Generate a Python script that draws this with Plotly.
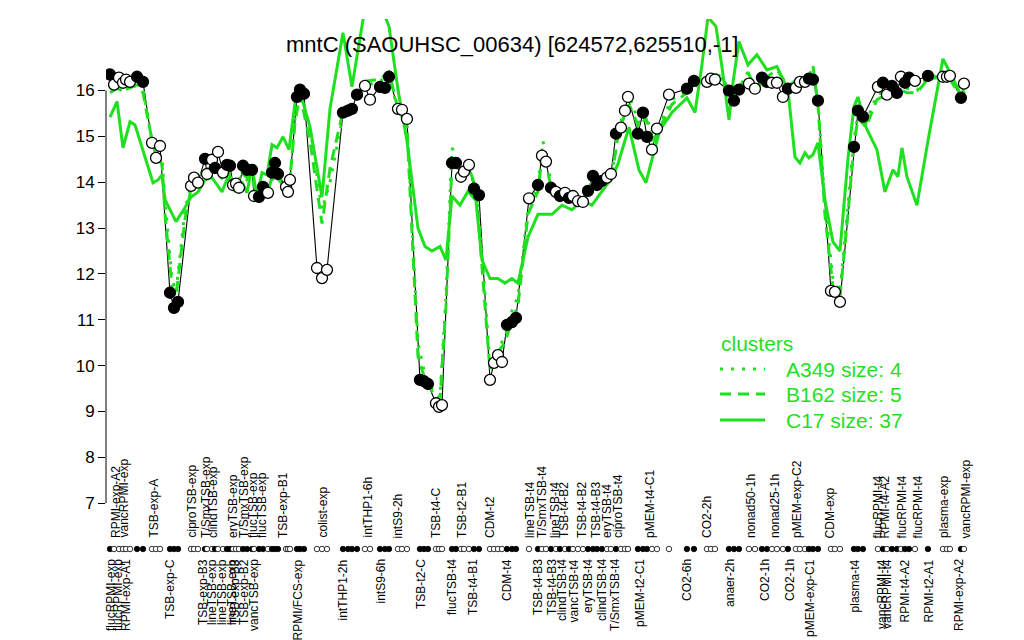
import plotly.graph_objects as go

# ---------------- data ----------------
point_pos = [0.00, 0.75, 1.68, 2.43, 2.99, 3.74, 5.05, 6.17, 7.85, 8.60, 9.35,
             11.21, 11.96, 12.71, 15.14, 15.70, 16.45, 17.76, 18.13, 19.07, 19.63,
             20.19, 21.12, 21.87, 22.43, 22.99, 23.55, 24.11, 24.86, 25.61, 26.54,
             26.92, 27.85, 28.60, 29.53, 30.28, 30.84, 31.40, 32.90, 33.27, 33.64,
             34.95, 35.51, 36.26, 38.69, 39.63, 40.56, 43.55, 44.49, 45.23, 46.17,
             47.66, 48.60, 50.47, 51.40, 52.15, 53.83, 54.58, 55.51, 57.94, 58.69,
             59.44, 60.93, 61.50, 62.06, 63.93, 64.67, 65.61, 66.17, 67.10, 68.04,
             68.97, 71.03, 71.78, 72.52, 73.27, 74.21, 75.14, 75.89, 78.32, 80.00,
             80.75, 81.50, 82.43, 83.36, 84.11, 85.05, 85.79, 86.54, 87.48, 88.41,
             89.35, 90.28, 91.03, 91.96, 92.90, 93.64, 94.58, 95.51, 96.26, 96.82,
             98.69, 99.63, 100.37, 101.31, 102.24, 104.49, 107.85, 109.16, 111.59, 112.34,
             113.08, 115.70, 116.64, 117.57, 119.44, 120.56, 121.87, 122.80, 123.74, 124.67,
             125.79, 126.73, 128.22, 128.97, 129.91, 130.65, 131.40, 132.34, 134.77, 135.51,
             136.45, 139.07, 139.81, 140.75, 143.55, 144.49, 145.23, 146.17, 147.10, 147.85,
             148.60, 149.35, 150.47, 152.90, 155.70, 156.45, 157.01, 159.07, 159.63]
point_val = [16.35, 16.13, 16.28, 16.17, 16.24, 16.19, 16.30, 16.19, 14.86, 14.53, 14.79,
             11.59, 11.26, 11.39, 13.92, 14.10, 13.99, 14.51, 14.18, 14.49, 14.31,
             14.66, 14.21, 14.38, 14.36, 13.94, 13.97, 13.88, 14.36, 14.27, 14.27,
             13.70, 13.68, 13.90, 13.77, 14.21, 14.42, 14.18, 13.90, 13.79, 14.05,
             15.86, 16.02, 15.93, 12.13, 11.91, 12.09, 15.52, 15.56, 15.60, 15.91,
             16.10, 15.80, 16.08, 16.06, 16.30, 15.60, 15.58, 15.38, 9.69, 9.66,
             9.60, 9.18, 9.10, 9.14, 14.42, 14.42, 14.12, 14.23, 14.38, 13.86,
             13.72, 9.69, 10.06, 10.23, 10.08, 10.89, 10.95, 11.04, 13.65, 13.94,
             14.58, 14.45, 13.88, 13.79, 13.70, 13.77, 13.66, 13.70, 13.59, 13.57,
             13.81, 14.14, 13.94, 14.03, 14.10, 14.18, 15.06, 15.19, 15.56, 15.86,
             15.06, 15.52, 14.99, 14.71, 15.17, 15.91, 16.04, 16.21, 16.19, 16.26,
             16.24, 16.00, 15.78, 16.02, 16.15, 16.04, 16.28, 16.19, 16.17, 16.17,
             15.86, 16.04, 16.06, 16.19, 16.19, 16.26, 16.24, 15.78, 11.63, 11.61,
             11.39, 14.77, 15.56, 15.43, 16.08, 16.17, 15.91, 16.10, 15.95, 16.30,
             16.17, 16.28, 16.21, 16.32, 16.30, 16.30, 16.32, 15.84, 16.15]
point_filled = [1, 0, 0, 0, 0, 0, 1, 1, 0, 0, 0,
                1, 1, 1, 0, 0, 0, 1, 0, 0, 1,
                0, 0, 1, 1, 0, 0, 0, 1, 1, 1,
                0, 1, 1, 0, 1, 1, 1, 0, 0, 0,
                1, 1, 1, 0, 0, 0, 1, 1, 1, 1,
                0, 0, 1, 1, 1, 0, 0, 0, 1, 1,
                1, 0, 0, 0, 1, 1, 0, 0, 0, 1,
                1, 0, 0, 0, 0, 1, 1, 1, 0, 1,
                0, 0, 1, 0, 1, 0, 1, 0, 0, 0,
                1, 1, 1, 1, 0, 0, 1, 0, 0, 0,
                1, 1, 1, 0, 0, 0, 1, 1, 0, 0,
                0, 1, 1, 1, 0, 0, 1, 1, 0, 0,
                0, 1, 0, 0, 0, 1, 1, 1, 0, 0,
                0, 1, 1, 1, 0, 1, 0, 1, 1, 0,
                1, 1, 0, 1, 0, 0, 0, 1, 0]

cluster_pos = [0.00, 1.31, 2.43, 3.74, 4.67, 6.17, 8.04, 8.97, 9.72, 10.28,
               11.59, 12.34, 14.02, 15.14, 16.45, 17.76, 19.07, 20.19, 20.93, 22.06,
               23.36, 24.67, 25.61, 26.54, 27.48, 28.41, 29.35, 30.28, 31.21, 32.34,
               33.46, 34.58, 35.51, 37.38, 39.63, 41.12, 43.55, 45.23, 47.66, 50.47,
               52.15, 53.83, 55.51, 57.57, 58.88, 60.19, 61.68, 62.80, 63.93, 65.42,
               66.92, 68.41, 69.53, 71.03, 72.52, 73.83, 75.14, 76.26, 78.13, 80.00,
               80.93, 82.62, 84.49, 86.36, 88.22, 90.09, 91.96, 93.83, 94.95, 96.26,
               97.01, 98.88, 100.19, 101.50, 102.80, 105.05, 107.85, 109.35, 110.65, 111.78,
               113.27, 114.39, 115.70, 116.45, 117.57, 119.25, 120.93, 122.80, 124.67, 126.73,
               128.04, 128.97, 129.91, 130.65, 131.40, 132.34, 133.64, 135.14, 136.45, 137.94,
               139.07, 139.81, 141.31, 143.36, 144.86, 146.36, 147.29, 148.04, 148.97, 150.84,
               152.90, 155.70, 157.01, 159.07, 159.81]
cluster_A349 = [16.05, 16.10, 15.95, 16.10, 16.15, 16.05, 14.75, 14.40, 14.55, 13.60,
                11.90, 11.60, 13.40, 13.95, 14.05, 14.30, 14.25, 14.35, 14.05, 14.20,
                13.95, 14.15, 14.05, 14.10, 13.70, 13.85, 13.75, 14.05, 14.15, 14.00,
                13.80, 15.40, 15.95, 15.20, 13.40, 14.00, 15.45, 15.65, 16.10, 16.20,
                16.35, 15.55, 15.30, 10.50, 9.80, 9.50, 9.30, 11.50, 14.75, 14.40,
                14.35, 13.90, 12.50, 10.00, 10.40, 10.60, 11.20, 11.50, 13.40, 13.90,
                14.90, 13.90, 13.75, 13.75, 13.60, 14.00, 14.10, 14.20, 15.10, 15.60,
                15.90, 15.30, 15.50, 14.90, 15.30, 15.80, 16.00, 16.15, 16.20, 16.30,
                16.30, 16.25, 16.05, 15.90, 16.10, 16.20, 16.10, 16.20, 16.30, 16.05,
                16.10, 16.20, 16.20, 16.25, 16.30, 15.80, 13.50, 11.90, 11.60, 13.50,
                14.90, 15.50, 15.30, 15.90, 16.00, 16.00, 15.95, 16.10, 16.05, 16.00,
                16.30, 16.35, 16.30, 15.90, 16.10]
cluster_B162 = [15.95, 16.05, 16.00, 16.05, 16.10, 15.95, 14.80, 14.50, 14.40, 13.30,
                11.70, 11.50, 13.20, 13.85, 13.95, 14.25, 14.35, 14.30, 14.10, 14.25,
                13.85, 14.20, 14.10, 14.15, 13.65, 13.80, 13.75, 14.10, 14.10, 13.95,
                13.85, 15.30, 15.90, 14.90, 13.10, 14.30, 15.55, 15.60, 16.20, 16.25,
                16.40, 15.60, 15.20, 10.20, 9.70, 9.45, 9.25, 11.30, 14.40, 14.30,
                14.40, 13.85, 12.20, 9.90, 10.30, 10.50, 11.00, 11.30, 13.30, 13.80,
                14.70, 13.80, 13.70, 13.65, 13.60, 14.00, 14.00, 14.15, 15.00, 15.50,
                15.70, 15.20, 15.40, 14.80, 15.20, 15.70, 15.95, 16.10, 16.20, 16.25,
                16.35, 16.30, 16.00, 16.00, 16.05, 16.40, 16.00, 16.30, 16.45, 16.10,
                16.20, 16.25, 16.30, 16.30, 16.55, 15.70, 13.30, 11.70, 11.50, 13.30,
                14.80, 15.40, 15.20, 15.80, 15.90, 15.95, 15.90, 16.00, 15.95, 15.95,
                16.25, 16.30, 16.25, 15.85, 16.00]
cluster_C17 = [15.42, 15.76, 14.75, 15.32, 15.25, 14.71, 13.99, 14.05, 14.16, 13.62,
               13.30, 13.14, 13.45, 13.68, 13.79, 14.05, 14.10, 13.90, 13.79, 14.12,
               13.79, 14.01, 13.77, 14.34, 13.68, 14.21, 14.16, 14.82, 14.75, 14.99,
               14.71, 15.73, 15.97, 15.21, 13.68, 15.60, 17.26, 16.08, 17.80, 17.90,
               17.40, 16.02, 14.90, 13.00, 12.60, 12.50, 12.60, 12.30, 13.70, 13.50,
               13.80, 13.60, 12.30, 11.90, 11.90, 11.80, 11.90, 11.80, 12.80, 13.30,
               13.30, 13.30, 13.50, 13.40, 13.60, 13.50, 13.80, 14.10, 14.40, 14.90,
               15.20, 14.27, 13.99, 14.58, 15.14, 15.52, 15.84, 15.52, 16.56, 17.60,
               17.40, 16.52, 15.36, 16.17, 17.07, 16.56, 16.78, 16.45, 16.52, 16.02,
               14.55, 14.42, 14.64, 14.53, 14.60, 14.86, 13.62, 12.70, 12.50, 14.50,
               15.65, 15.86, 15.20, 14.71, 13.79, 14.27, 14.12, 14.75, 14.12, 13.50,
               14.90, 16.69, 16.40, 15.90, 15.80]

cluster_names = ["A349 size: 4", "B162 size: 5", "C17 size: 37"]

top_label_text = ["RPMI-exp-A2", "vancRPMI-exp", "TSB-exp-A", "ciproTSB-exp", "T/SmxTSB-exp",
                  "clindTSB-exp", "eryTSB-exp", "T/SmxTSB-exp", "flucTSB-exp", "flucTSB-exp",
                  "TSB-exp-B1", "colist-exp", "intTHP1-6h", "intS9-2h", "TSB-t4-C",
                  "TSB-t2-B1", "CDM-t2", "lineTSB-t4", "T/SmxTSB-t4", "lineTSB-t4",
                  "TSB-t4-B2", "TSB-t4-B2", "TSB-t4-B3", "eryTSB-t4", "ciproTSB-t4",
                  "pMEM-t4-C1", "CO2-2h", "nonad50-1h", "nonad25-1h", "pMEM-exp-C2",
                  "CDM-exp", "flucRPMI-t4", "RPMI-t4-A2", "flucRPMI-t4", "flucRPMI-t4",
                  "plasma-exp", "vancRPMI-exp"]
top_label_pos = [1.12, 2.43, 8.04, 15.14, 17.94, 19.25, 22.99, 25.05, 26.73, 28.41,
                 32.34, 39.63, 48.04, 53.83, 60.93, 65.79, 71.03, 78.50, 80.75, 83.18,
                 84.86, 88.22, 90.84, 92.90, 94.95, 100.93, 111.59, 119.81, 124.30, 128.41,
                 134.58, 143.55, 144.86, 148.04, 151.03, 155.89, 160.00]

bottom_label_text = ["flucRPMI-exp", "flucRPMI-exp", "RPMI-exp-A1", "TSB-exp-C", "TSB-exp-B3",
                     "lineTSB-exp", "lineTSB-exp", "lineTSB-exp", "TSB-exp-B3", "TSB-exp-B2",
                     "vancTSB-exp", "RPMI/FCS-exp", "intTHP1-2h", "intS9-6h", "TSB-t2-C",
                     "flucTSB-t4", "TSB-t4-B1", "CDM-t4", "TSB-t4-B3", "TSB-t4-B3",
                     "clindTSB-t4", "vancTSB-t4", "eryTSB-t4", "clindTSB-t4", "T/SmxTSB-t4",
                     "pMEM-t2-C1", "CO2-6h", "anaer-2h", "CO2-1h", "CO2-1h",
                     "pMEM-exp-C1", "plasma-t4", "vancRPMI-t4", "vancRPMI-t4", "RPMI-t4-A2",
                     "RPMI-t2-A1", "RPMI-exp-A2"]
bottom_label_pos = [0.19, 1.50, 2.99, 11.21, 17.38, 19.07, 20.93, 22.80, 23.36, 25.05,
                    26.92, 35.14, 43.55, 50.47, 58.13, 63.93, 67.85, 74.21, 80.00, 82.62,
                    84.49, 86.73, 89.35, 91.96, 94.39, 99.07, 107.85, 115.89, 122.43, 127.10,
                    130.84, 139.25, 144.30, 145.23, 148.60, 153.08, 158.69]

y_ticks = [7, 8, 9, 10, 11, 12, 13, 14, 15, 16]
title_text = "mntC (SAOUHSC_00634) [624572,625510,-1]"

# ---------------- layout constants (pixels of the 1024x640 page) ----------------
W, H = 1024, 640
M_L, M_R, M_T, M_B = 106, 34, 19, 0
PLOT_W = W - M_L - M_R
PLOT_H = H - M_T - M_B


def px_x(px):
    return (px - M_L) / PLOT_W


def px_y(py):
    return (H - M_B - py) / PLOT_H


FONT = "Liberation Sans, Arial, Helvetica, sans-serif"
GREEN = "#1fe01f"
Y_RANGE = [6.59, 17.56]
X_RANGE = [-0.75, 164.5]
dash_styles = ["3px,8px", "11px,7px", "solid"]

fig = go.Figure()

# black connecting line
fig.add_trace(go.Scatter(x=point_pos, y=point_val, mode="lines",
                         line=dict(color="black", width=1.1), showlegend=False,
                         hoverinfo="skip"))

# cluster lines
for name, vals, dsh in zip(cluster_names, [cluster_A349, cluster_B162, cluster_C17], dash_styles):
    fig.add_trace(go.Scatter(x=cluster_pos, y=vals, mode="lines", name=name, showlegend=False,
                             line=dict(color=GREEN, width=3, dash=dsh)))

fill_colors = ["black" if f else "white" for f in point_filled]

# points
fig.add_trace(go.Scatter(x=point_pos, y=point_val, mode="markers", showlegend=False,
                         marker=dict(size=11, color=fill_colors, symbol="circle",
                                     line=dict(color="black", width=1.3))))

# rug of condition dots (own small y axis)
fig.add_trace(go.Scatter(x=point_pos, y=[0.5] * len(point_pos), mode="markers",
                         yaxis="y2", showlegend=False, cliponaxis=False,
                         marker=dict(size=5.5, color=fill_colors, symbol="circle",
                                     line=dict(color="black", width=0.8))))

annotations = []
for t, p in zip(top_label_text, top_label_pos):
    annotations.append(dict(x=p, y=px_y(540), xref="x", yref="paper", text=t, textangle=-90,
                            showarrow=False, xanchor="center", yanchor="bottom",
                            font=dict(family=FONT, size=12, color="black")))
for t, p in zip(bottom_label_text, bottom_label_pos):
    annotations.append(dict(x=p, y=px_y(557), xref="x", yref="paper", text=t, textangle=-90,
                            showarrow=False, xanchor="center", yanchor="top",
                            font=dict(family=FONT, size=12, color="black")))
annotations.append(dict(x=px_x(512), y=px_y(45), xref="paper", yref="paper", text=title_text,
                        showarrow=False, xanchor="center", yanchor="middle",
                        font=dict(family=FONT, size=22, color="black")))

# legend (drawn manually to match R legend spacing)
shapes = [dict(type="line", xref="paper", yref="y", x0=0, x1=0, y0=7, y1=16,
               line=dict(color="black", width=1))]
annotations.append(dict(x=px_x(719), y=px_y(343), xref="paper", yref="paper", text="clusters",
                        showarrow=False, xanchor="left", yanchor="middle",
                        font=dict(family=FONT, size=21, color=GREEN)))
legend_rows = [369, 394, 420]
for name, dsh, ry in zip(cluster_names, dash_styles, legend_rows):
    shapes.append(dict(type="line", xref="paper", yref="paper", x0=px_x(720), x1=px_x(765),
                       y0=px_y(ry), y1=px_y(ry), line=dict(color=GREEN, width=3, dash=dsh)))
    annotations.append(dict(x=px_x(784), y=px_y(ry), xref="paper", yref="paper", text=name,
                            showarrow=False, xanchor="left", yanchor="middle",
                            font=dict(family=FONT, size=21, color=GREEN)))

fig.update_layout(
    width=W, height=H,
    margin=dict(l=M_L, r=M_R, t=M_T, b=M_B),
    paper_bgcolor="white", plot_bgcolor="white",
    annotations=annotations,
    shapes=shapes,
    showlegend=False,
    xaxis=dict(range=X_RANGE, visible=False, anchor="y"),
    yaxis=dict(range=Y_RANGE, domain=[px_y(522), 1.0], tickvals=y_ticks,
               ticktext=[str(v) for v in y_ticks],
               ticks="outside", ticklen=7, tickcolor="black", showline=False,
               showgrid=False, zeroline=False, anchor="x",
               tickfont=dict(family=FONT, size=17, color="black")),
    yaxis2=dict(range=[0, 1], domain=[px_y(556), px_y(542)], visible=False, anchor="x"),
)

fig.write_html("out.html", config={"displayModeBar": False},
               post_script="document.body.style.margin='0px';")
